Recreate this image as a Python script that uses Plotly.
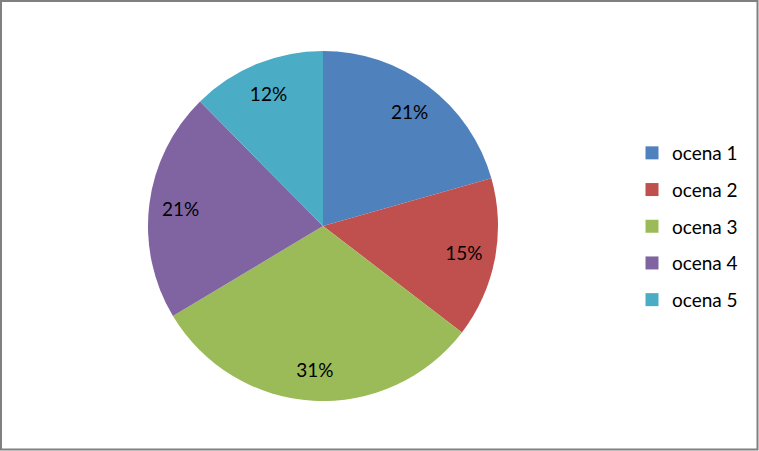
import plotly.graph_objects as go

labels = ["ocena 1", "ocena 2", "ocena 3", "ocena 4", "ocena 5"]
values = [20.6, 14.8, 31.0, 21.2, 12.4]
colors = ["#4F81BD", "#C0504D", "#9BBB59", "#8064A2", "#4BACC6"]

W, H = 759, 451
cx, cy, r = 323, 226, 175
FONT = "Lato"
dom = dict(x=[(cx - r) / W, (cx + r) / W], y=[(H - cy - r) / H, (H - cy + r) / H])

fig = go.Figure()
# filled pie
fig.add_trace(go.Pie(
    labels=labels, values=values, sort=False, direction="clockwise", rotation=0,
    marker=dict(colors=colors, line=dict(width=0)),
    textinfo="none", hoverinfo="label+percent", showlegend=False, domain=dom,
))
# transparent ring carrying the percentage labels (places them near the rim)
fig.add_trace(go.Pie(
    labels=labels, values=values, sort=False, direction="clockwise", rotation=0,
    hole=0.64,
    marker=dict(colors=["rgba(0,0,0,0)"] * len(labels), line=dict(width=0)),
    texttemplate="%{percent:.0%}", textposition="inside",
    insidetextorientation="horizontal",
    textfont=dict(family=FONT, size=19, color="black"),
    hoverinfo="skip", showlegend=False, domain=dom,
))
# legend entries
for lab, col in zip(labels, colors):
    fig.add_trace(go.Scatter(
        x=[None], y=[None], mode="markers", name=lab, legendgroup=lab,
        marker=dict(symbol="square", size=13, color=col),
        showlegend=True,
    ))

fig.update_layout(
    width=W, height=H,
    margin=dict(l=0, r=0, t=0, b=0),
    paper_bgcolor="white", plot_bgcolor="white",
    xaxis=dict(visible=False), yaxis=dict(visible=False),
    legend=dict(
        x=632 / W, y=(H - 134) / H, xanchor="left", yanchor="top",
        font=dict(family=FONT, size=19, color="black"),
        bgcolor="rgba(0,0,0,0)", tracegroupgap=9,
    ),
    shapes=[dict(type="rect", xref="paper", yref="paper",
                 x0=1 / W, x1=757.5 / W, y0=1.5 / H, y1=(H - 1) / H,
                 line=dict(color="#808080", width=2))],
)

fig.write_html("out.html", config={"displayModeBar": False},
               post_script="document.body.style.margin='0';")
